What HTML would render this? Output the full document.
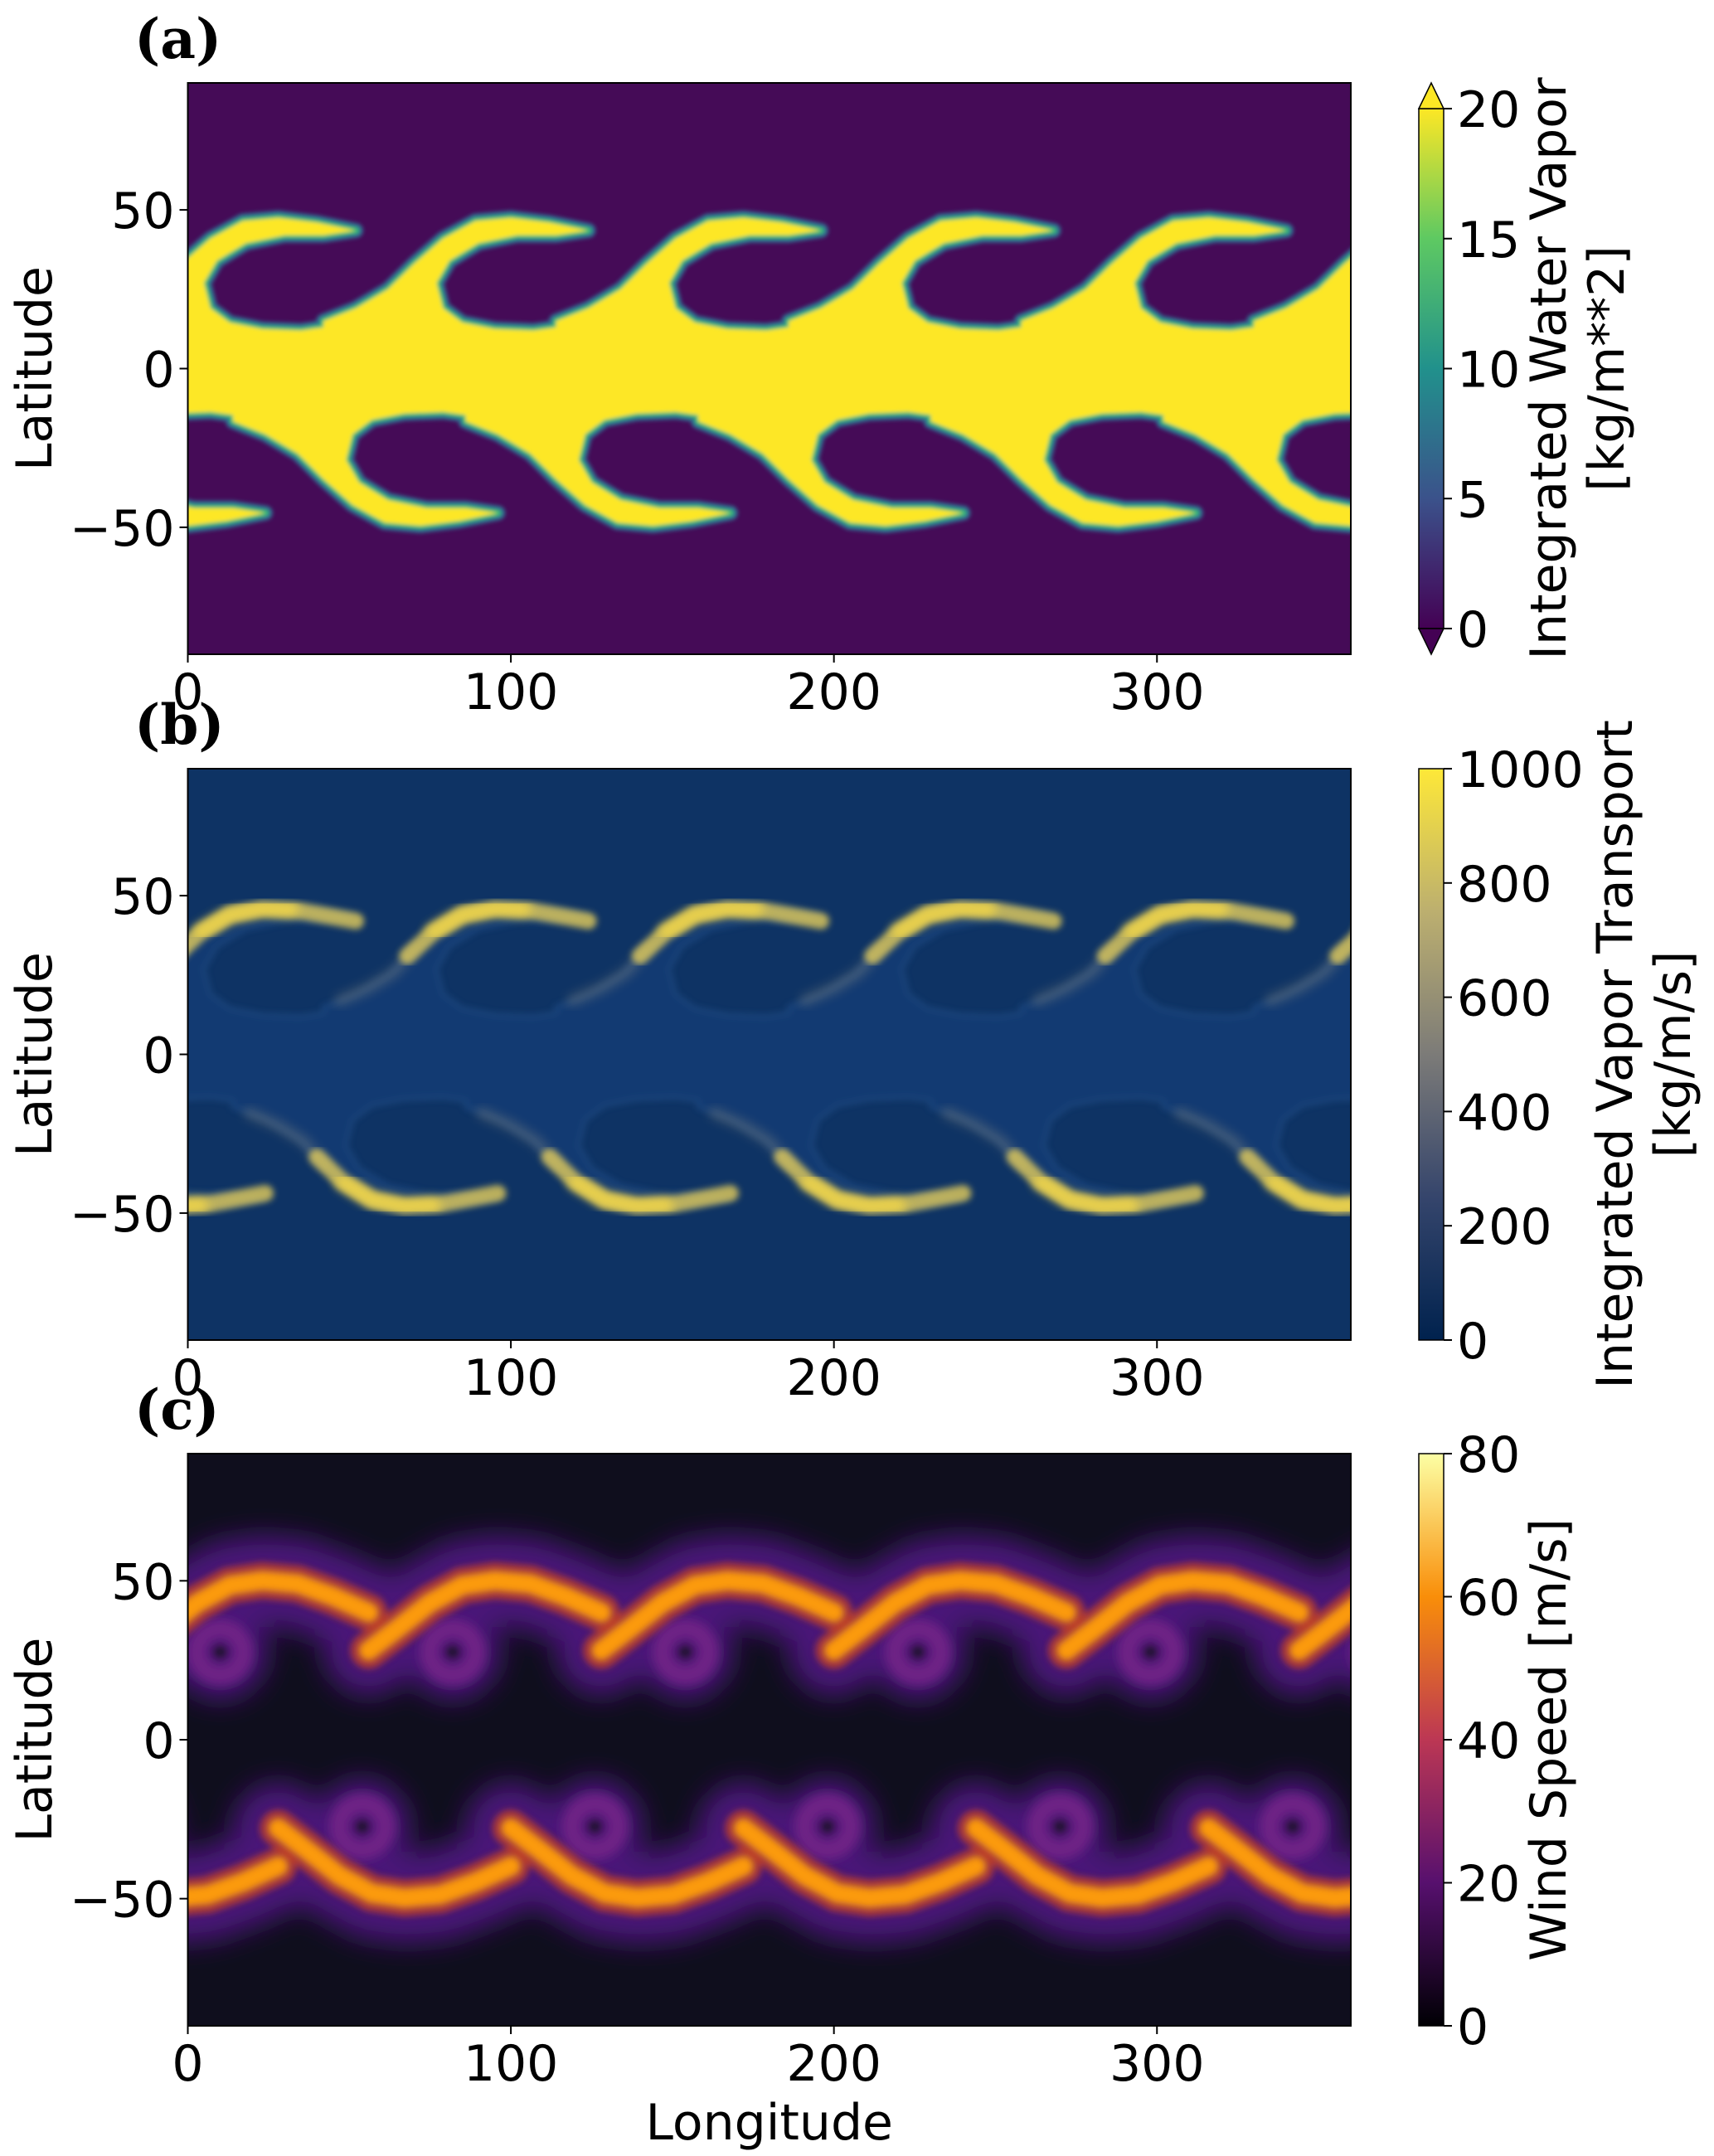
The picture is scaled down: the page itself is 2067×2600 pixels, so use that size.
<!DOCTYPE html>
<html><head><meta charset="utf-8"><style>
html,body{margin:0;padding:0;background:#fff;}
svg{display:block;font-family:"DejaVu Sans","Liberation Sans",sans-serif;}
</style></head><body>
<svg id="fig" width="2067" height="2600" viewBox="0 0 2067 2600" xmlns="http://www.w3.org/2000/svg">
<defs>
<filter id="b2" x="-20%" y="-20%" width="140%" height="140%"><feGaussianBlur stdDeviation="2.5"/></filter>
<filter id="b4" x="-20%" y="-20%" width="140%" height="140%"><feGaussianBlur stdDeviation="4"/></filter>
<filter id="b6" x="-20%" y="-20%" width="140%" height="140%"><feGaussianBlur stdDeviation="6"/></filter>
<filter id="b16" x="-30%" y="-30%" width="160%" height="160%"><feGaussianBlur stdDeviation="16"/></filter>
<linearGradient id="gViridis" x1="0" y1="1" x2="0" y2="0">
<stop offset="0" stop-color="#440154"/><stop offset="0.25" stop-color="#3b528b"/><stop offset="0.5" stop-color="#21918c"/><stop offset="0.75" stop-color="#5ec962"/><stop offset="1" stop-color="#fde725"/></linearGradient>
<linearGradient id="gCividis" x1="0" y1="1" x2="0" y2="0">
<stop offset="0" stop-color="#00224e"/><stop offset="0.25" stop-color="#35456c"/><stop offset="0.5" stop-color="#7c7b78"/><stop offset="0.75" stop-color="#bcaf6f"/><stop offset="1" stop-color="#fee838"/></linearGradient>
<linearGradient id="gInferno" x1="0" y1="1" x2="0" y2="0">
<stop offset="0" stop-color="#000004"/><stop offset="0.25" stop-color="#57106e"/><stop offset="0.5" stop-color="#bc3754"/><stop offset="0.75" stop-color="#f98e09"/><stop offset="1" stop-color="#fcffa4"/></linearGradient>
<clipPath id="clipA"><rect x="226.5" y="100" width="1402.5" height="689"/></clipPath>
<clipPath id="clipB"><rect x="226.5" y="927" width="1402.5" height="689"/></clipPath>
<clipPath id="clipC"><rect x="226.5" y="1753" width="1402.5" height="690"/></clipPath>
</defs>
</svg>
<script>
// ---- data ----
const upperCrestLon = [-52, 20, 92, 164, 236, 308, 380];
const lowerCrestLon = [-80, -8, 64, 136, 208, 280, 352, 424];
const crestLat = 47.5;
const troughLat = -49.5;
const eddyLat = 27.5;
const lonTicks = [0, 100, 200, 300];
const latTicks = [-50, 0, 50];
const cbTicksA = [0, 5, 10, 15, 20];
const cbTicksB = [0, 200, 400, 600, 800, 1000];
const cbTicksC = [0, 20, 40, 60, 80];

const NS = "http://www.w3.org/2000/svg";
const svg = document.getElementById('fig');
const X0 = 226.5, X1 = 1629;
const panelTop = [100, 927, 1753];
const PH = 689;
const FS = 60;
function xS(lon){ return X0 + lon * (X1 - X0) / 360; }
function yS(p, lat){ return panelTop[p] + (90 - lat) / 180 * PH; }
function mk(tag, attrs, parent){
  const e = document.createElementNS(NS, tag);
  for (const k in attrs) e.setAttribute(k, attrs[k]);
  (parent || svg).appendChild(e);
  return e;
}
// shape templates (relative lon offset, latitude)
const bodyT = [[-50,15],[-40,19],[-30,25],[-22,33],[-13,41],[-3,46.5],[8,47.5],[20,46],[32,43.5],[22,42],[10,42],[-2,39.5],[-11,34],[-15,27],[-13,19],[-7,14.5],[3,12.5],[15,12],[22,13]];
const armT = [[-24,31],[-16,38.5],[-7,44],[3,46],[13,45.5],[24,43.5],[32,42]];
const armMidT = [[-16,38.5],[-7,44],[3,46],[12,45.6]];
const stemT = [[-45,17],[-36,21],[-28,26],[-22,33]];
const arcT = [[-36,28],[-27,35],[-17,43],[-7,48.5],[3,50],[14,49],[25,45],[36,40]];

function upPts(p, c, T, scale){ return T.map(t => [xS(c + t[0]), yS(p, t[1] * scale)]); }
function loPts(p, c, T, scale, off){ return T.map(t => [xS(c + t[0]), yS(p, -t[1] * scale + off)]); }
function d(pts){ return 'M' + pts.map(q => q[0].toFixed(1) + ',' + q[1].toFixed(1)).join('L'); }
function bodyPath(p){
  let top = [], bot = [];
  upperCrestLon.forEach(c => { top = top.concat(upPts(p, c, bodyT, crestLat/47.5)); });
  lowerCrestLon.forEach(c => { bot = bot.concat(loPts(p, c, bodyT, -troughLat/47.5 * 0.97, -1.5)); });
  bot.reverse();
  return d(top.concat(bot)) + 'Z';
}

// ---- panel A ----
(function(){
  const g = mk('g', {'clip-path':'url(#clipA)'});
  
  
  mk('rect', {x:X0, y:panelTop[0], width:X1-X0, height:PH, fill:'#450b57'}, g);
  const gb = mk('g', {filter:'url(#b2)'}, g);
  const bp = bodyPath(0);
  mk('path', {d:bp, fill:'#fde725', stroke:'#31688e', 'stroke-width':18, 'stroke-linejoin':'round'}, gb);
  mk('path', {d:bp, fill:'#fde725', stroke:'#35b779', 'stroke-width':8, 'stroke-linejoin':'round'}, gb);
  const body = mk('path', {d:bp, fill:'#fde725'}, gb);
  
  
})();

// ---- panel B ----
(function(){
  const g = mk('g', {'clip-path':'url(#clipB)'});
  
  
  mk('rect', {x:X0, y:panelTop[1], width:X1-X0, height:PH, fill:'#0e3364'}, g);
  const bp = bodyPath(1);
  mk('path', {d:bp, fill:'#174380', stroke:'#2a5a98', 'stroke-width':4, filter:'url(#b4)', opacity:0.5}, g);
  const arms = (pts, ptsMid, stem, nm) => {
    mk('path', {d:d(stem), fill:'none', stroke:'#8a8a80', 'stroke-width':14, 'stroke-linecap':'round', opacity:0.35, filter:'url(#b6)'}, g);
    mk('path', {d:d(pts), fill:'none', stroke:'#d8c45c', 'stroke-width':20, 'stroke-linecap':'round', opacity:0.85, filter:'url(#b4)'}, g);
    const a = mk('path', {d:d(ptsMid), fill:'none', stroke:'#f0d548', 'stroke-width':18, 'stroke-linecap':'round', opacity:0.9, filter:'url(#b6)'}, g);
    
    
  };
  upperCrestLon.forEach(c => arms(upPts(1, c, armT, crestLat/47.5), upPts(1, c, armMidT, crestLat/47.5), upPts(1, c, stemT, 1), 'upper-transport-arm'));
  lowerCrestLon.forEach(c => arms(loPts(1, c, armT, -troughLat/47.5, 0), loPts(1, c, armMidT, -troughLat/47.5, 0), loPts(1, c, stemT, 1, -1.5), 'lower-transport-arm'));
})();

// ---- panel C ----
(function(){
  const g = mk('g', {'clip-path':'url(#clipC)'});
  
  
  mk('rect', {x:X0, y:panelTop[2], width:X1-X0, height:690, fill:'#0f0e1d'}, g);
  const halo = mk('g', {filter:'url(#b16)'}, g);
  upperCrestLon.forEach(c => {
    mk('path', {d:d(upPts(2, c, arcT, 1)), fill:'none', stroke:'#4a1678', 'stroke-width':110, 'stroke-linecap':'round'}, halo);
    mk('circle', {cx:xS(c-10), cy:yS(2, eddyLat), r:58, fill:'#4a1678'}, halo);
  });
  lowerCrestLon.forEach(c => {
    mk('path', {d:d(loPts(2, c, arcT, 1, 0)), fill:'none', stroke:'#4a1678', 'stroke-width':110, 'stroke-linecap':'round'}, halo);
    mk('circle', {cx:xS(c-10), cy:yS(2, -eddyLat), r:58, fill:'#4a1678'}, halo);
  });
  const mid = mk('g', {filter:'url(#b6)'}, g);
  const drawEddy = (cx, cy) => {
    mk('circle', {cx:cx, cy:cy, r:28, fill:'none', stroke:'#6e2085', 'stroke-width':24}, mid);
    const e = mk('circle', {cx:cx, cy:cy, r:9, fill:'#120c1e'}, mid);
    
    
  };
  upperCrestLon.forEach(c => drawEddy(xS(c-10), yS(2, eddyLat)));
  lowerCrestLon.forEach(c => drawEddy(xS(c-10), yS(2, -eddyLat)));
  const jet = mk('g', {filter:'url(#b4)'}, g);
  upperCrestLon.forEach(c => {
    mk('path', {d:d(upPts(2, c, arcT, 1)), fill:'none', stroke:'#c8441f', 'stroke-width':44, 'stroke-linecap':'round', opacity:0.75}, jet);
    const a = mk('path', {d:d(upPts(2, c, arcT, 1)), fill:'none', stroke:'#fb9a0c', 'stroke-width':22, 'stroke-linecap':'round'}, jet);
    
    
  });
  lowerCrestLon.forEach(c => {
    mk('path', {d:d(loPts(2, c, arcT, 1, 0)), fill:'none', stroke:'#c8441f', 'stroke-width':44, 'stroke-linecap':'round', opacity:0.75}, jet);
    const a = mk('path', {d:d(loPts(2, c, arcT, 1, 0)), fill:'none', stroke:'#fb9a0c', 'stroke-width':22, 'stroke-linecap':'round'}, jet);
    
    
  });
})();

// ---- axes ----
const panelNames = ['a','b','c'];
const panelH = [689, 689, 690];
for (let p = 0; p < 3; p++){
  const frame = mk('rect', {x:X0, y:panelTop[p], width:X1-X0, height:panelH[p], fill:'none', stroke:'#000', 'stroke-width':2});
  
  
  const bottom = panelTop[p] + panelH[p];
  lonTicks.forEach(v => {
    mk('line', {x1:xS(v), x2:xS(v), y1:bottom, y2:bottom+10, stroke:'#000', 'stroke-width':2});
    const t = mk('text', {x:xS(v), y:bottom+66, 'font-size':FS, 'text-anchor':'middle'});
    t.textContent = v;
    
    
  });
  latTicks.forEach(v => {
    const y = panelTop[p] + (90 - v) / 180 * panelH[p];
    mk('line', {x1:X0-10, x2:X0, y1:y, y2:y, stroke:'#000', 'stroke-width':2});
    const t = mk('text', {x:X0-16, y:y+22, 'font-size':FS, 'text-anchor':'end'});
    t.textContent = v < 0 ? '\u2212' + Math.abs(v) : v;
    
    
  });
  const cy = panelTop[p] + panelH[p] / 2;
  const yl = mk('text', {x:0, y:0, 'font-size':FS, 'text-anchor':'middle', transform:'translate(62,' + cy + ') rotate(-90)'});
  yl.textContent = 'Latitude';
  
  
  const pl = mk('text', {x:162, y:panelTop[p] - 30, 'font-size':66, 'font-weight':'bold', 'font-family':'"DejaVu Serif","Liberation Serif",serif'});
  pl.textContent = '(' + panelNames[p] + ')';
  
  
}
const xl = mk('text', {x:(X0+X1)/2, y:2580, 'font-size':FS, 'text-anchor':'middle'});
xl.textContent = 'Longitude';



// ---- colorbars ----
const CBX = 1711, CBW = 30;
function colorbar(top, bot, grad, ticks, lines, name, ext, tx){
  const g = mk('g', {});
  
  
  mk('rect', {x:CBX, y:top, width:CBW, height:bot-top, fill:'url(#' + grad + ')', stroke:'#000', 'stroke-width':1.5}, g);
  if (ext){
    mk('path', {d:`M${CBX},${top} L${CBX+CBW/2},${top-31} L${CBX+CBW},${top}Z`, fill:'#fde725', stroke:'#000', 'stroke-width':1.5}, g);
    mk('path', {d:`M${CBX},${bot} L${CBX+CBW/2},${bot+31} L${CBX+CBW},${bot}Z`, fill:'#440154', stroke:'#000', 'stroke-width':1.5}, g);
  }
  const lo = ticks[0], hi = ticks[ticks.length-1];
  ticks.forEach(v => {
    const y = bot - (v - lo) / (hi - lo) * (bot - top);
    mk('line', {x1:CBX+CBW, x2:CBX+CBW+10, y1:y, y2:y, stroke:'#000', 'stroke-width':2}, g);
    const t = mk('text', {x:CBX+CBW+16, y:y+22, 'font-size':FS}, g);
    t.textContent = v;
    
    
  });
  const cy = (top + bot) / 2;
  lines.forEach((s, i) => {
    const t = mk('text', {x:0, y:0, 'font-size':FS, 'text-anchor':'middle', transform:`translate(${tx + i*70},${cy}) rotate(-90)`}, g);
    t.textContent = s;
    
    
  });
}
colorbar(131, 758, 'gViridis', cbTicksA, ['Integrated Water Vapor', '[kg/m**2]'], 'colorbar-water-vapor', true, 1888);
colorbar(927, 1616, 'gCividis', cbTicksB, ['Integrated Vapor Transport', '[kg/m/s]'], 'colorbar-vapor-transport', false, 1968);
colorbar(1753, 2443, 'gInferno', cbTicksC, ['Wind Speed [m/s]'], 'colorbar-wind-speed', false, 1888);
</script>
</body></html>
